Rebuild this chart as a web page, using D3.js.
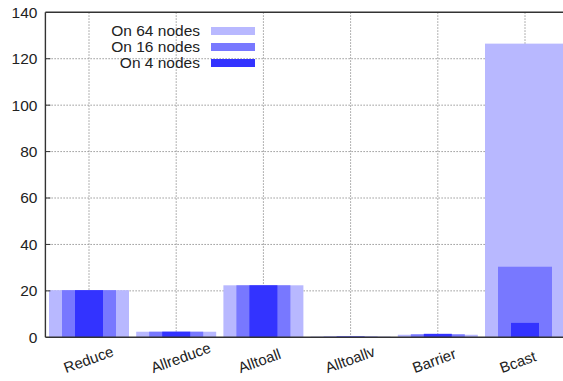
<!DOCTYPE html>
<html>
<head>
<meta charset="utf-8">
<script src="https://cdn.jsdelivr.net/npm/d3@7"></script>
<style>
  html, body { margin: 0; padding: 0; background: #fff; overflow: hidden; }
  svg { display: block; font-family: "Liberation Sans", Arial, sans-serif; }
</style>
</head>
<body>
<svg id="chart" width="563" height="381"></svg>
<script>
// MPI collective timings per operation, for three cluster sizes
const categories = ["Reduce", "Allreduce", "Alltoall", "Alltoallv", "Barrier", "Bcast"];
const nodes64 = [20.3, 2.4, 22.4, 0.3, 1.1, 126.5];
const nodes16 = [20.3, 2.4, 22.4, 0.3, 1.3, 30.4];
const nodes4  = [20.3, 2.4, 22.4, 0.35, 1.5, 6.2];
const seriesLabels = ["On 64 nodes", "On 16 nodes", "On 4 nodes"];
const yTicks = [0, 20, 40, 60, 80, 100, 120, 140];

const series = [
  { label: seriesLabels[0], values: nodes64, color: "#b8b8ff", width: 80 },
  { label: seriesLabels[1], values: nodes16, color: "#7878ff", width: 54 },
  { label: seriesLabels[2], values: nodes4,  color: "#3333ff", width: 28 }
];

const fontSize = 15.5;
const svg = d3.select("#chart");
const plotLeft = 45.4, plotTop = 12.3, plotBottom = 337.3;
const step = 87.2;
const plotRight = plotLeft + step * categories.length;

const x = d3.scaleBand().domain(categories).range([plotLeft, plotRight]).padding(0);
const y = d3.scaleLinear().domain([0, 140]).range([plotBottom, plotTop]);
const cx = d => x(d) + x.bandwidth() / 2;

// grid
const grid = svg.append("g").attr("stroke", "#999").attr("stroke-width", 1)
  .attr("stroke-dasharray", "1.5,1.5");
grid.selectAll("line.h").data(yTicks.slice(1, -1)).join("line")
  .attr("x1", plotLeft).attr("x2", plotRight)
  .attr("y1", d => y(d)).attr("y2", d => y(d));
grid.selectAll("line.v").data(categories).join("line")
  .attr("x1", cx).attr("x2", cx)
  .attr("y1", plotTop).attr("y2", plotBottom);

// bars, widest first
series.forEach(s => {
  svg.append("g").selectAll("rect").data(categories).join("rect")
    .attr("x", d => cx(d) - s.width / 2)
    .attr("width", s.width)
    .attr("y", (d, i) => y(s.values[i]))
    .attr("height", (d, i) => plotBottom - y(s.values[i]))
    .attr("fill", s.color);
});

// axes
const yAxis = d3.axisLeft(y).tickValues(yTicks).tickSize(0).tickPadding(8);
const gy = svg.append("g").attr("transform", `translate(${plotLeft},0)`).call(yAxis);
gy.select(".domain").remove();
gy.selectAll("text").attr("font-size", fontSize).attr("fill", "#222")
  .attr("font-family", "Liberation Sans, Arial, sans-serif");

// category labels: rotated, anchored at their start below-left of each tick
const xAxis = d3.axisBottom(x).tickSize(0).tickPadding(0);
const gx = svg.append("g").attr("transform", `translate(0,${plotBottom})`).call(xAxis);
gx.select(".domain").remove();
gx.selectAll("text")
  .attr("font-size", 15).attr("fill", "#222")
  .attr("font-family", "Liberation Sans, Arial, sans-serif")
  .attr("text-anchor", "start")
  .attr("dy", null).attr("y", null)
  .attr("transform", "translate(-23,36) rotate(-20)");

// frame
const frame = svg.append("g").attr("stroke", "#333").attr("stroke-width", 1.4).attr("fill", "none");
frame.append("line").attr("x1", plotLeft).attr("x2", plotLeft).attr("y1", plotTop).attr("y2", plotBottom);
frame.append("line").attr("x1", plotLeft).attr("x2", plotRight).attr("y1", plotBottom).attr("y2", plotBottom);
frame.append("line").attr("x1", plotLeft).attr("x2", plotRight).attr("y1", plotTop).attr("y2", plotTop);

// small tick marks on the y axis
svg.append("g").attr("stroke", "#333").attr("stroke-width", 1)
  .selectAll("line").data(yTicks.slice(1, -1)).join("line")
  .attr("x1", plotLeft).attr("x2", plotLeft + 5)
  .attr("y1", d => y(d)).attr("y2", d => y(d));

// legend
const legend = svg.append("g").attr("transform", "translate(200,31)");
series.forEach((s, i) => {
  const row = legend.append("g").attr("transform", `translate(0,${i * 16})`);
  row.append("text").attr("x", 0).attr("y", 0).attr("dy", "0.35em")
    .attr("text-anchor", "end").attr("font-size", fontSize).attr("fill", "#222")
    .text(s.label);
  row.append("rect").attr("x", 11).attr("y", -4).attr("width", 44).attr("height", 8)
    .attr("fill", s.color);
});
</script>
</body>
</html>
